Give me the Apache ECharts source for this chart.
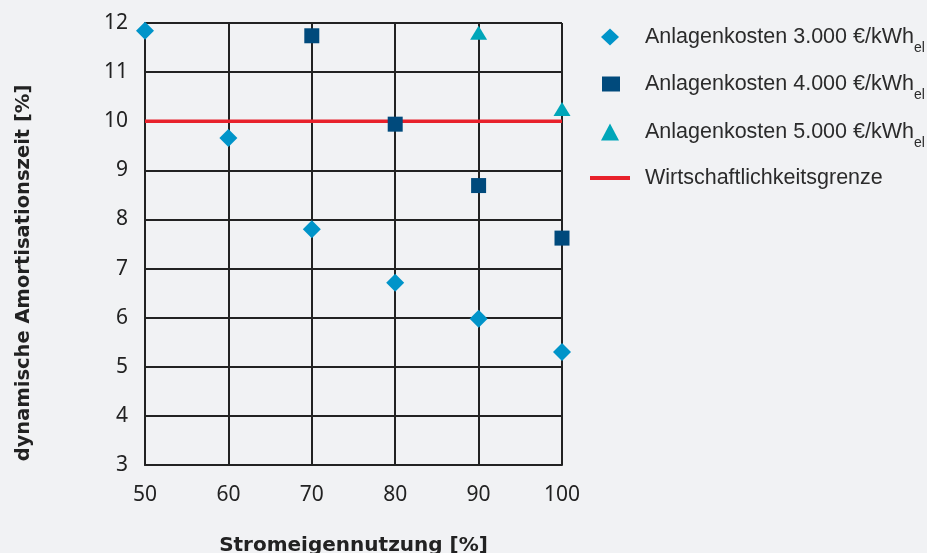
<!DOCTYPE html>
<html>
<head>
<meta charset="utf-8">
<script src="https://cdn.jsdelivr.net/npm/echarts@6/dist/echarts.min.js"></script>
<style>
  html, body { margin: 0; padding: 0; background: #f1f2f4; overflow: hidden; }
  #chart { width: 927px; height: 553px; }
</style>
</head>
<body>
<div id="chart"></div>
<script>
// Stromeigennutzung [%]
var xTicks = [50, 60, 70, 80, 90, 100];

// dynamische Amortisationszeit je Anlagenkosten
var kosten3000 = [[50, 11.84], [60, 9.66], [70, 7.8], [80, 6.71], [90, 5.98], [100, 5.3]];
var kosten4000 = [[70, 11.74], [80, 9.94], [90, 8.69], [100, 7.62]];
var kosten5000 = [[90, 11.8], [100, 10.25]];
var grenze = [[50, 10], [100, 10]];

var names = [
    'Anlagenkosten 3.000 €/kWh',
    'Anlagenkosten 4.000 €/kWh',
    'Anlagenkosten 5.000 €/kWh',
    'Wirtschaftlichkeitsgrenze'
];
var icons = ['diamond', 'rect', 'triangle', 'rect'];
var legendCenters = [36, 83, 131, 177];

var chart = echarts.init(document.getElementById('chart'), null, { width: 927, height: 553 });

// eine Legende pro Eintrag, damit die Symbole ihre Form behalten
var legends = names.map(function (n, i) {
    var isLine = i === 3;
    return {
        left: isLine ? 590 : (i === 1 ? 602 : 601),
        top: legendCenters[i] - 10,
        itemWidth: isLine ? 40 : 18,
        itemHeight: isLine ? 4 : (i === 1 ? 15 : 17),
        selectedMode: false,
        padding: 0,
        data: [{ name: n, icon: icons[i] }],
        formatter: function (name) {
            if (name.indexOf('kWh') > -1) {
                return '{a|' + name + '}{s|el}';
            }
            return '{a|' + name + '}';
        },
        textStyle: {
            rich: {
                a: { fontFamily: 'Liberation Sans', fontSize: 21.5, color: '#2b2b2b', padding: [0, 0, 0, isLine ? 10 : 21 - (i === 1 ? 1 : 0)] },
                s: { fontFamily: 'Liberation Sans', fontSize: 14, color: '#2b2b2b', padding: [22, 0, 0, 0] }
            }
        }
    };
});

var option = {
    backgroundColor: '#f1f2f4',
    animation: false,
    grid: { left: 145, right: 365, top: 23, bottom: 88, outerBoundsMode: 'none' },
    legend: legends,
    xAxis: {
        type: 'value',
        min: 50,
        max: 100,
        interval: 10,
        name: 'Stromeigennutzung [%]',
        nameLocation: 'middle',
        nameGap: 71,
        nameTextStyle: { fontFamily: 'DejaVu Sans', fontWeight: 'bold', fontSize: 20, color: '#222' },
        axisLine: { show: true, lineStyle: { color: '#222', width: 2 } },
        axisTick: { show: false },
        axisLabel: { margin: 20, fontFamily: 'Noto Sans', fontSize: 21, color: '#222' },
        splitLine: { show: true, lineStyle: { color: '#222', width: 2 } }
    },
    yAxis: {
        type: 'value',
        min: 3,
        max: 12,
        interval: 1,
        name: 'dynamische Amortisationszeit [%]',
        nameLocation: 'middle',
        nameGap: 111,
        nameTextStyle: {
            fontFamily: 'DejaVu Sans', fontWeight: 'bold', fontSize: 19.5, color: '#222',
            padding: [0, 58, 0, 0]
        },
        axisLine: { show: true, lineStyle: { color: '#222', width: 2 } },
        axisTick: { show: false },
        axisLabel: { margin: 17, fontFamily: 'Noto Sans', fontSize: 21, color: '#222' },
        splitLine: { show: true, lineStyle: { color: '#222', width: 2 } }
    },
    series: [
        {
            name: names[3],
            type: 'line',
            data: grenze,
            symbol: 'none',
            lineStyle: { color: '#e8212b', width: 3.5 },
            itemStyle: { color: '#e8212b' },
            z: 3
        },
        {
            name: names[0],
            type: 'scatter',
            symbol: 'diamond',
            symbolSize: 18,
            data: kosten3000,
            itemStyle: { color: '#0094c9', opacity: 1 },
            z: 4
        },
        {
            name: names[1],
            type: 'scatter',
            symbol: 'rect',
            symbolSize: 15,
            data: kosten4000,
            itemStyle: { color: '#004a7c', opacity: 1 },
            z: 4
        },
        {
            name: names[2],
            type: 'scatter',
            symbol: 'triangle',
            symbolSize: [17, 14],
            data: kosten5000,
            itemStyle: { color: '#00a6b9', opacity: 1 },
            z: 4
        }
    ]
};

chart.setOption(option);
</script>
</body>
</html>
